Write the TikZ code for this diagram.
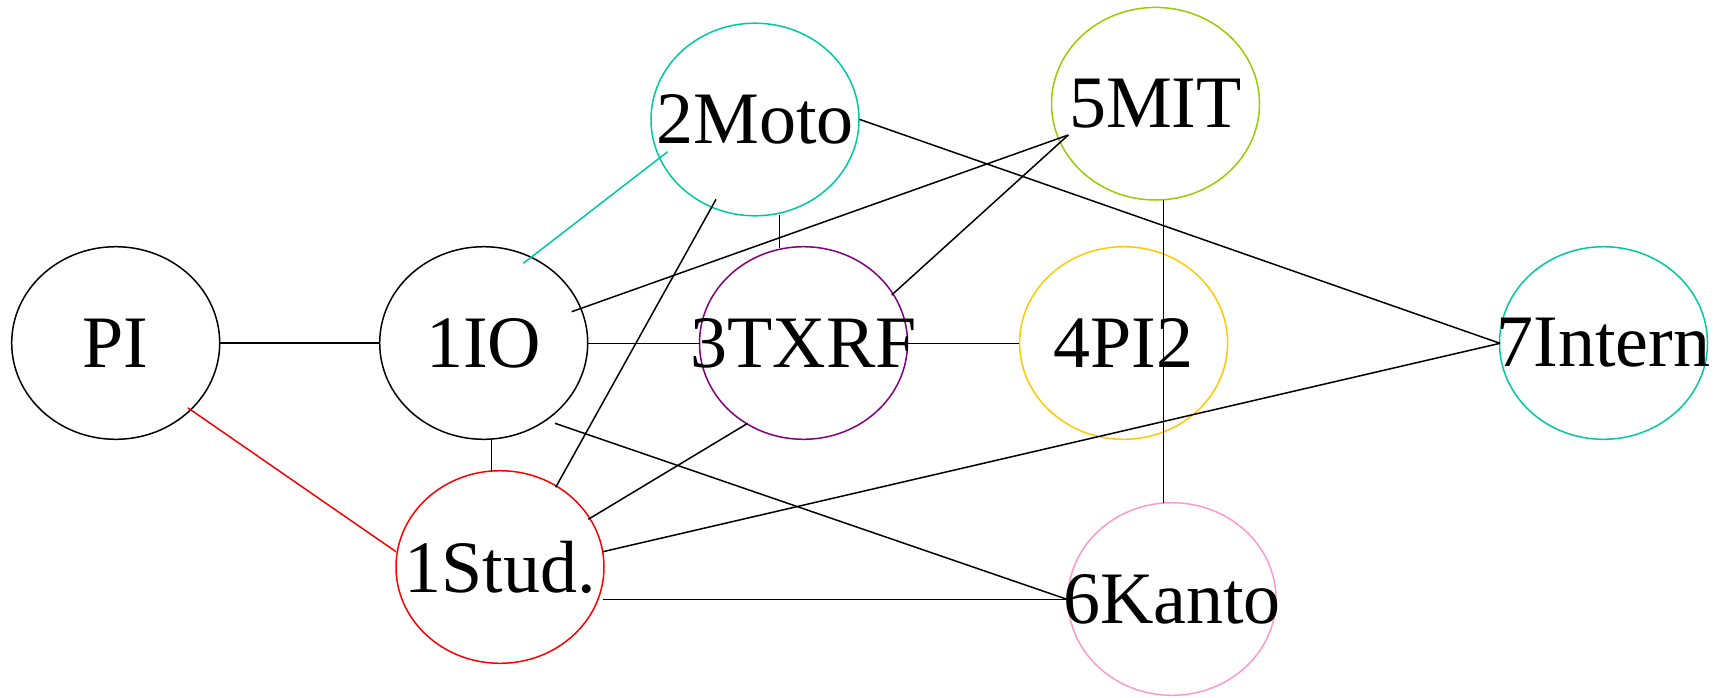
\documentclass[tikz,border=0pt]{standalone}
\usepackage{fontspec}
\setmainfont{Liberation Serif}
\usetikzlibrary{shapes.geometric}
\definecolor{cteal}{RGB}{0,200,160}
\definecolor{clime}{RGB}{153,204,0}
\definecolor{cgold}{RGB}{255,200,0}
\definecolor{cpurple}{RGB}{128,0,128}
\definecolor{cred}{RGB}{255,0,0}
\definecolor{cpink}{RGB}{255,153,204}
\begin{document}
\begin{tikzpicture}[x=1pt,y=-1pt,
  vert/.style={ellipse, draw, line width=1.5pt, minimum width=208pt,
    minimum height=192.6pt, inner sep=0pt, outer sep=0pt,
    font=\fontsize{74}{80}\selectfont},
  link/.style={line width=1.5pt}]
\useasboundingbox (0,0) rectangle (1723,697);

% vertices
\node[vert] (PI) at (115.7,343) {\makebox[0pt]{PI}};
\node[vert] (IO) at (483.7,343) {\makebox[0pt]{1IO}};
\node[vert, cteal] (Moto) at (755,119.5) {\makebox[0pt]{\color{black}2Moto}};
\node[vert, cpurple] (TXRF) at (803.5,343) {\makebox[0pt]{\color{black}3TXRF}};
\node[vert, cgold] (PItwo) at (1123.6,343) {\makebox[0pt]{\color{black}4PI2}};
\node[vert, clime] (MIT) at (1155.5,103.7) {\makebox[0pt]{\color{black}5MIT}};
\node[vert, cteal] (Intern) at (1603.5,343) {\makebox[0pt]{\color{black}7Intern}};
\node[vert, cred] (Stud) at (500,567) {\makebox[0pt]{\color{black}1Stud.}};
\node[vert, cpink] (Kanto) at (1172,599) {\makebox[0pt]{\color{black}6Kanto}};

% connections
\draw[link] ([shift={(104.3,0)}]PI.center) -- ([shift={(-103.7,0)}]IO.center);
\draw[link, cred] ([shift={(72,64.7)}]PI.center) -- ([shift={(-104,-15.3)}]Stud.center);
\draw[link, cteal] ([shift={(39.6,-79.7)}]IO.center) -- ([shift={(-87.3,32.2)}]Moto.center);
\draw[link] ([shift={(88,-31.3)}]IO.center) -- ([shift={(-87.2,31.3)}]MIT.center);
\draw[link] ([shift={(104.6,0.3)}]IO.center) -- ([shift={(-103.5,0.3)}]TXRF.center);
\draw[link] ([shift={(7.7,96)}]IO.center) -- ([shift={(-8.6,-96)}]Stud.center);
\draw[link] ([shift={(71.3,80.3)}]IO.center) -- ([shift={(-105,0.3)}]Kanto.center);
\draw[link] ([shift={(-39,79.8)}]Moto.center) -- ([shift={(55.7,-79.7)}]Stud.center);
\draw[link] ([shift={(24.3,95.5)}]Moto.center) -- ([shift={(-24.2,-95.3)}]TXRF.center);
\draw[link] ([shift={(104.3,-0.2)}]Moto.center) -- ([shift={(-103.5,0.3)}]Intern.center);
\draw[link] ([shift={(88.2,-48)}]TXRF.center) -- ([shift={(-87.2,31.3)}]MIT.center);
\draw[link] ([shift={(104.8,0.3)}]TXRF.center) -- ([shift={(-104.3,0.3)}]PItwo.center);
\draw[link] ([shift={(-55.8,80.3)}]TXRF.center) -- ([shift={(88.3,-47.7)}]Stud.center);
\draw[link] ([shift={(7.8,96.3)}]MIT.center) -- ([shift={(-8.7,-95.7)}]Kanto.center);
\draw[link] ([shift={(102.9,-15.3)}]Stud.center) -- ([shift={(-103.5,0.3)}]Intern.center);
\draw[link] ([shift={(102.9,32.3)}]Stud.center) -- ([shift={(-105,0.3)}]Kanto.center);
\end{tikzpicture}
\end{document}
